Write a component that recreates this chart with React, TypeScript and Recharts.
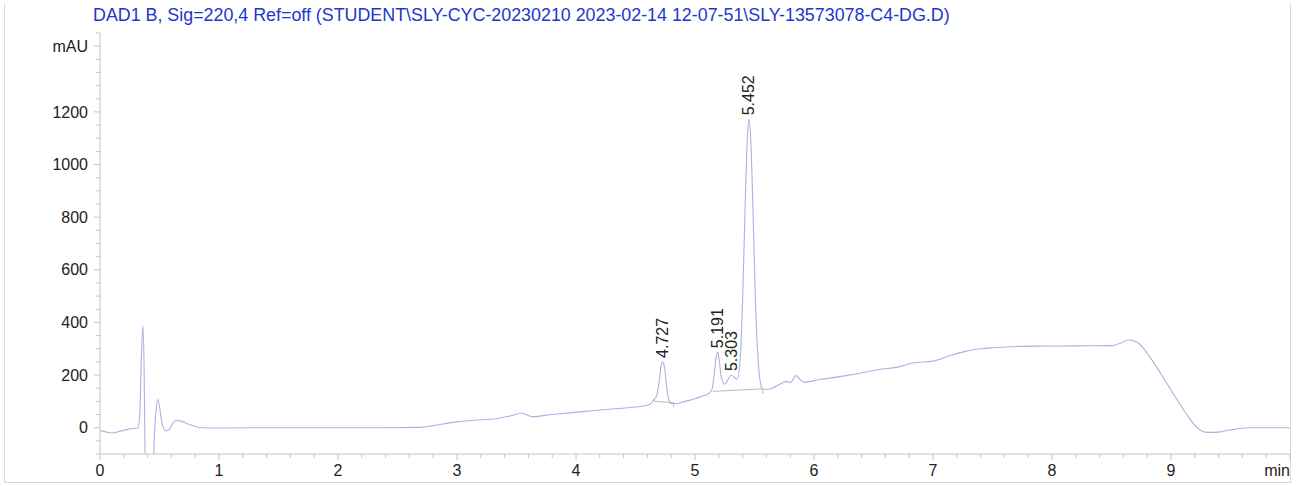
import { ComposedChart, Line, XAxis, YAxis } from 'recharts'

// DAD1 B, 220 nm signal: retention time (min) vs. absorbance (mAU)
const TIME_MIN = [
  0, 0.05, 0.1, 0.18, 0.26, 0.32, 0.335, 0.35, 0.36, 0.37, 0.38, 0.4, 0.44, 0.455, 0.47, 0.485, 0.5, 0.52,
  0.55, 0.58, 0.61, 0.64, 0.68, 0.74, 0.8, 0.86, 1.0, 1.5, 2.0, 2.4, 2.69, 2.8, 3.0, 3.2, 3.33, 3.45, 3.54,
  3.6, 3.63, 3.8, 4.03, 4.3, 4.59, 4.63, 4.65, 4.68, 4.7, 4.715, 4.727, 4.745, 4.76, 4.78, 4.8, 4.85, 4.9,
  5.0, 5.05, 5.1, 5.14, 5.16, 5.175, 5.191, 5.205, 5.22, 5.25, 5.28, 5.303, 5.335, 5.355, 5.38, 5.4, 5.42,
  5.44, 5.452, 5.47, 5.49, 5.51, 5.53, 5.55, 5.565, 5.6, 5.65, 5.71, 5.77, 5.8, 5.85, 5.88, 5.91, 6.05,
  6.27, 6.55, 6.72, 6.83, 7.0, 7.15, 7.28, 7.4, 7.51, 7.84, 8.2, 8.51, 8.58, 8.64, 8.7, 8.74, 8.82, 8.91,
  9.05, 9.14, 9.22, 9.3, 9.4, 9.5, 9.66, 10.0,
]
const ABSORBANCE_MAU = [
  -10, -16, -20, -12, -4, 0, 60, 300, 386, 250, -150, -400, -400, -60, 60, 107, 80, 20,
  -12, -8, 15, 28, 25, 14, 5, 0, -1, 0, 0, 0, 1, 8, 22, 30, 34, 45, 55,
  46, 42, 50, 60, 71, 84, 92, 104, 125, 180, 235, 250, 225, 160, 108, 92, 92, 98,
  110, 118, 126, 142, 195, 260, 287, 250, 195, 165, 185, 200, 190, 185, 260, 480, 820,
  1100, 1172, 1080, 780, 450, 260, 170, 148, 145, 150, 164, 176, 171, 198, 185, 173, 183,
  198, 221, 232, 246, 253, 275, 291, 300, 304, 310, 311, 312, 322, 333, 328, 316, 270, 208,
  107, 45, 0, -18, -17, -8, 0, 0,
]

// integration baselines and peak boundary marks (null breaks the segments)
const BASELINE_TIME = [4.66, 4.66, 4.82, 4.82, 4.82, 5.15, 5.57, 5.57, 5.25, 5.25, 5.35, 5.35]
const BASELINE_MAU = [110, 100, 95, 80, null, 138, 148, 130, null, 165, null, 183]

const PEAK_TIMES = [4.727, 5.191, 5.303, 5.452]
const PEAK_MAU = [250, 287, 200, 1172]

const X_LABELS = [0, 1, 2, 3, 4, 5, 6, 7, 8, 9]
const Y_LABELS = [0, 200, 400, 600, 800, 1000, 1200]

const X_TICKS = Array.from({ length: 51 }, (_, i) => Math.round(i * 2) / 10)
const Y_TICKS = Array.from({ length: 33 }, (_, i) => -100 + i * 50)

const traceData = TIME_MIN.map((t, i) => ({ t, mau: ABSORBANCE_MAU[i] }))
const baselineData = BASELINE_TIME.map((t, i) => ({ t, mau: BASELINE_MAU[i] }))
const peakData = PEAK_TIMES.map((t, i) => ({ t, mau: PEAK_MAU[i], label: t.toFixed(3) }))

const FONT = '"Liberation Sans", Arial, sans-serif'
const AXIS_COLOR = '#c4c4c4'
const TEXT_COLOR = '#222222'
const TRACE_COLOR = '#adb1e0'

function XTick({ x, y, payload }: any) {
  const v = payload.value
  const major = X_LABELS.includes(v) || v === 10
  return (
    <g>
      <line x1={x} x2={x} y1={y} y2={y + (major ? 6 : 4)} stroke={AXIS_COLOR} />
      {X_LABELS.includes(v) && (
        <text x={x} y={y + 22} textAnchor="middle" fontSize={16} fill={TEXT_COLOR} fontFamily={FONT}>
          {v}
        </text>
      )}
      {v === 10 && (
        <text x={x} y={y + 22} textAnchor="end" fontSize={16} fill={TEXT_COLOR} fontFamily={FONT}>
          min
        </text>
      )}
    </g>
  )
}

function YTick({ x, y, payload }: any) {
  const v = payload.value
  const major = Y_LABELS.includes(v) || v === 1450
  return (
    <g>
      <line x1={x - (major ? 6 : 4)} x2={x} y1={y} y2={y} stroke={AXIS_COLOR} />
      {Y_LABELS.includes(v) && (
        <text x={x - 12} y={y} dy="0.35em" textAnchor="end" fontSize={16} fill={TEXT_COLOR} fontFamily={FONT}>
          {v}
        </text>
      )}
      {v === 1450 && (
        <text x={x - 12} y={y} dy="0.35em" textAnchor="end" fontSize={16} fill={TEXT_COLOR} fontFamily={FONT}>
          mAU
        </text>
      )}
    </g>
  )
}

function PeakLabel({ cx, cy, payload }: any) {
  if (cx == null || cy == null) return <g />
  const ay = cy - 4
  return (
    <text
      key={payload.label}
      x={cx}
      y={ay}
      transform={`rotate(-90 ${cx} ${ay})`}
      textAnchor="start"
      dominantBaseline="central"
      fontSize={16}
      fill={TEXT_COLOR}
      fontFamily={FONT}
    >
      {payload.label}
    </text>
  )
}

export default function App() {
  return (
    <div style={{ position: 'absolute', left: 0, top: 0, width: 1303, height: 486, background: '#fff' }}>
      <div
        style={{
          position: 'absolute',
          left: 4,
          top: 3,
          width: 1285,
          height: 479,
          border: '1px solid #d9d9d9',
          borderTop: 'none',
        }}
      />
      <div
        style={{
          position: 'absolute',
          left: 93,
          top: 5,
          fontFamily: FONT,
          fontSize: 17.85,
          lineHeight: '20px',
          color: '#2236cc',
          whiteSpace: 'nowrap',
        }}
      >
        DAD1 B, Sig=220,4 Ref=off (STUDENT\SLY-CYC-20230210 2023-02-14 12-07-51\SLY-13573078-C4-DG.D)
      </div>
      <div style={{ position: 'absolute', left: 0, top: 0 }}>
        <ComposedChart width={1303} height={486} margin={{ top: 33, right: 13, bottom: 0, left: 0 }}>
          <XAxis
            type="number"
            dataKey="t"
            domain={[0, 10]}
            ticks={X_TICKS}
            interval={0}
            allowDataOverflow
            height={32}
            stroke={AXIS_COLOR}
            tickLine={false}
            tickSize={0}
            tickMargin={0}
            tick={<XTick />}
          />
          <YAxis
            type="number"
            domain={[-100, 1500]}
            ticks={Y_TICKS}
            interval={0}
            allowDataOverflow
            width={100}
            stroke={AXIS_COLOR}
            tickLine={false}
            tickSize={0}
            tickMargin={0}
            tick={<YTick />}
          />
          <Line
            data={baselineData}
            dataKey="mau"
            type="linear"
            stroke="#a8a8a8"
            strokeWidth={0.8}
            dot={false}
            connectNulls={false}
            isAnimationActive={false}
          />
          <Line
            data={traceData}
            dataKey="mau"
            type="monotone"
            stroke={TRACE_COLOR}
            strokeWidth={1.1}
            dot={false}
            isAnimationActive={false}
          />
          <Line
            data={peakData}
            dataKey="mau"
            stroke="none"
            dot={<PeakLabel />}
            activeDot={false}
            isAnimationActive={false}
          />
        </ComposedChart>
      </div>
    </div>
  )
}
